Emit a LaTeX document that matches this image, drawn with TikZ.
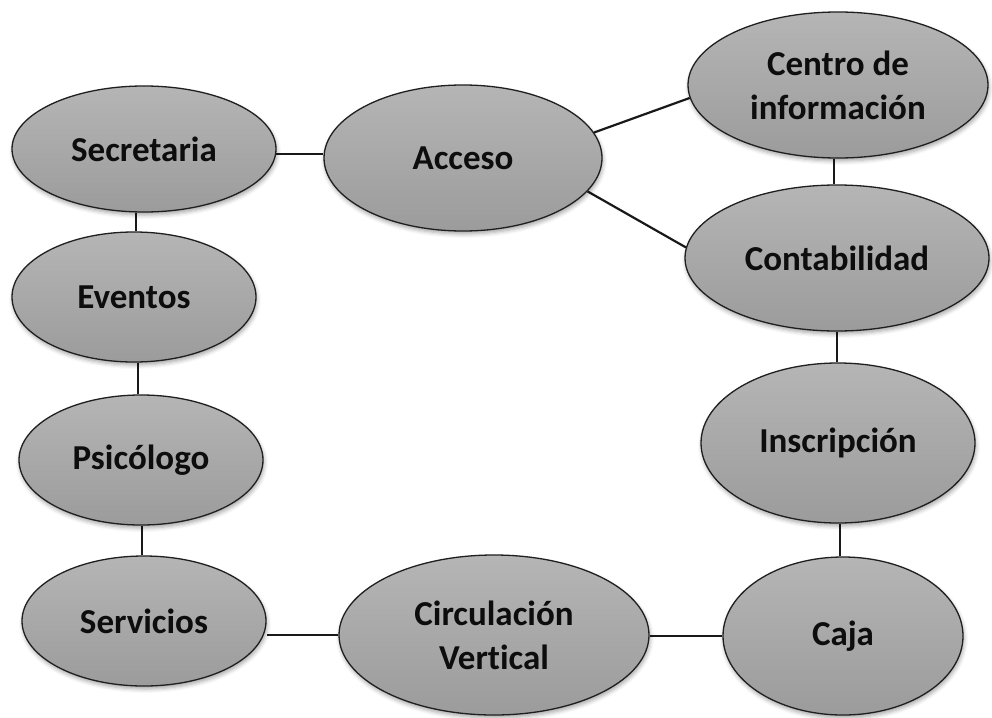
\documentclass[tikz,border=0pt]{standalone}
\usepackage{fontspec}
\setmainfont{Carlito}[Ligatures=NoCommon]
\usetikzlibrary{shapes.geometric,shadows.blur,backgrounds}
\begin{document}
\begin{tikzpicture}[x=1pt,y=-1pt,
  oval/.style={ellipse, draw=black!88, line width=1.3pt, inner sep=0pt,
    top color=black!29, bottom color=black!39,
    blur shadow={shadow xshift=1pt, shadow yshift=-3pt, shadow blur radius=4pt, shadow opacity=35},
    font=\fontsize{35}{44}\selectfont\bfseries, align=center, text=black!95},
  link/.style={draw=black!90, line width=2.2pt}]
\useasboundingbox (0,0) rectangle (992,717);
\node[oval, minimum width=264pt, minimum height=126pt] (sec) at (144,149) {Secretaria};
\node[oval, minimum width=278pt, minimum height=146pt] (acc) at (463,158) {Acceso};
\node[oval, minimum width=300pt, minimum height=146pt] (cen) at (838,85) {Centro de\\información};
\node[oval, minimum width=304pt, minimum height=146pt] (con) at (837,258) {Contabilidad};
\node[oval, minimum width=274pt, minimum height=160pt] (ins) at (838,443) {Inscripción};
\node[oval, minimum width=240pt, minimum height=158pt] (caj) at (843,636) {Caja};
\node[oval, minimum width=310pt, minimum height=160pt] (cir) at (494,635) {Circulación\\Vertical};
\node[oval, minimum width=244pt, minimum height=130pt] (ser) at (144,621) {Servicios};
\node[oval, minimum width=244pt, minimum height=130pt] (psi) at (141,460) {Psicólogo};
\node[oval, minimum width=244pt, minimum height=130pt] (eve) at (134,297) {Eventos};
\begin{scope}[on background layer]
\draw[link] (sec.-2) -- (sec.-2 -| acc.west);
\draw[link] (acc.11) -- (cen.185);
\draw[link] (acc.-15) -- (con.176);
\draw[link] (cen.south) ++(-4,0) coordinate (c1) -- (c1 |- con.north);
\draw[link] (con.south) -- (con.south |- ins.north);
\draw[link] (ins.south) ++(2,0) coordinate (c2) -- (c2 |- caj.north);
\draw[link] (caj.west) -- (caj.west -| cir.east);
\draw[link] (cir.west) -- (cir.west -| ser.east);
\draw[link] (ser.north) ++(-2,0) coordinate (c3) -- (c3 |- psi.south);
\draw[link] (psi.north) ++(-3,0) coordinate (c4) -- (c4 |- eve.south);
\draw[link] (eve.north) ++(2,0) coordinate (c5) -- (c5 |- sec.south);
\end{scope}
\end{tikzpicture}
\end{document}
